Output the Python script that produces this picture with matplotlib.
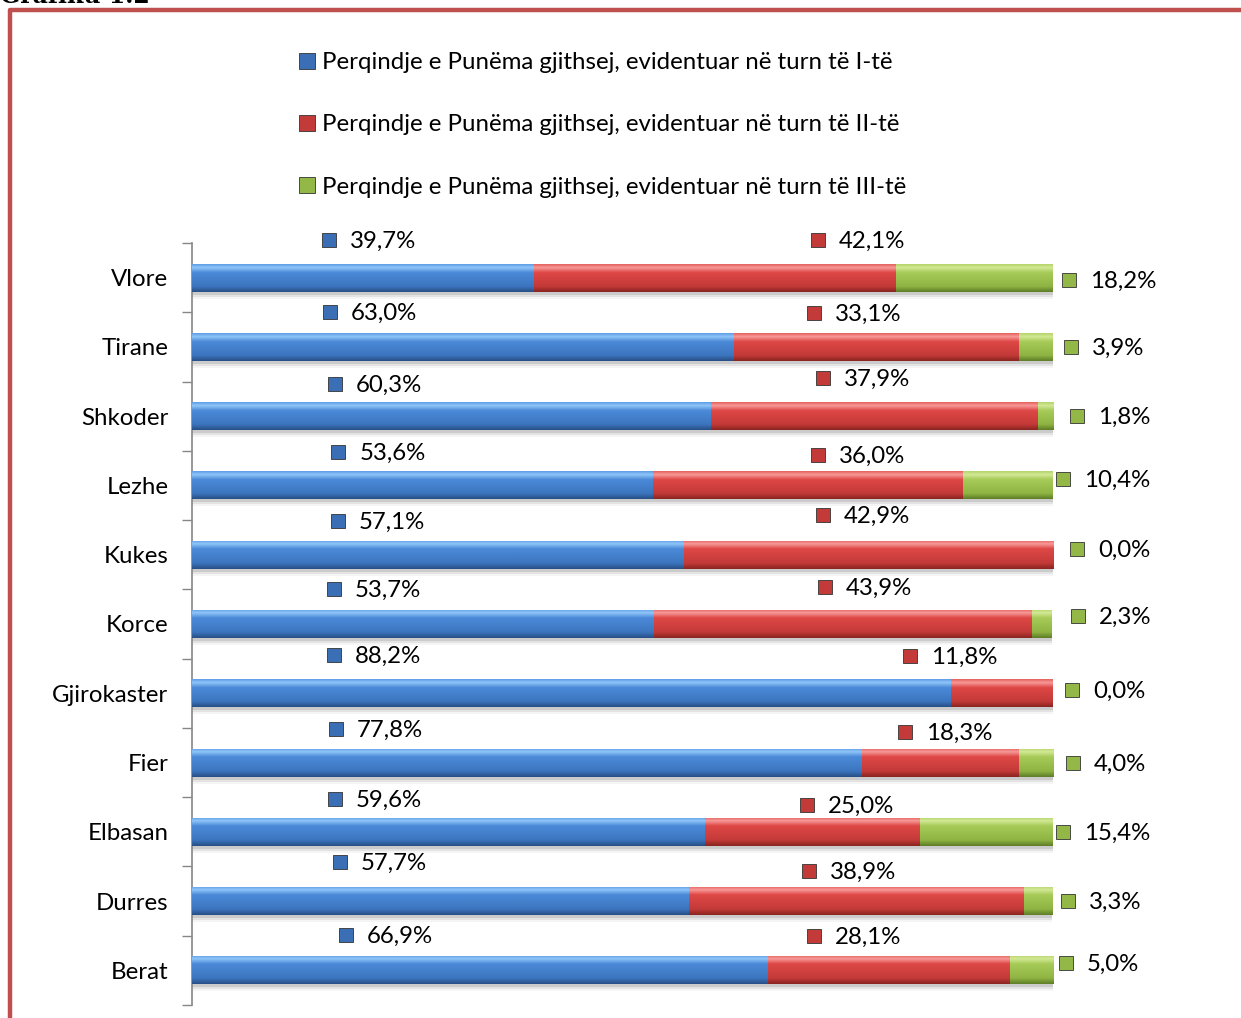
import numpy as np
import matplotlib
matplotlib.use("Agg")
import matplotlib.pyplot as plt
from matplotlib.colors import to_rgb
from matplotlib.lines import Line2D

plt.rcParams['font.family'] = ['Lato', 'DejaVu Sans']

# data (top to bottom, as in the picture)
qarqe = ["Vlore", "Tirane", "Shkoder", "Lezhe", "Kukes", "Korce",
         "Gjirokaster", "Fier", "Elbasan", "Durres", "Berat"]
turn1 = [39.7, 63.0, 60.3, 53.6, 57.1, 53.7, 88.2, 77.8, 59.6, 57.7, 66.9]
turn2 = [42.1, 33.1, 37.9, 36.0, 42.9, 43.9, 11.8, 18.3, 25.0, 38.9, 28.1]
turn3 = [18.2, 3.9, 1.8, 10.4, 0.0, 2.3, 0.0, 4.0, 15.4, 3.3, 5.0]
seriet = ["Perqindje e Punëma gjithsej, evidentuar në turn të I-të",
          "Perqindje e Punëma gjithsej, evidentuar në turn të II-të",
          "Perqindje e Punëma gjithsej, evidentuar në turn të III-të"]

# where the data labels were dragged to (x in %, y offset in px from bar centre)
lbl1_x = [15.9, 16.0, 16.6, 17.0, 16.9, 16.5, 16.5, 16.7, 16.6, 17.2, 17.9]
lbl2_x = [72.7, 72.2, 73.3, 72.7, 73.3, 73.5, 83.4, 82.8, 71.4, 71.7, 72.2]
lbl3_x = [101.9, 102.1, 102.8, 101.2, 102.8, 102.9, 102.2, 102.3, 101.2, 101.7, 101.5]
lbl1_dy = [-38, -35, -32, -33, -34, -35, -38, -34, -33, -39, -35]
lbl2_dy = [-38, -34, -38, -30, -40, -37, -37, -31, -27, -30, -34]
lbl3_dy = [2, 0, 0, -6, -6, -8, -3, 0, 0, 0, -7]

# colour ramps: top edge, highlight, middle, lower, bottom edge
ramps = [
    ["#5f9de6", "#8fc5f8", "#4b8ad8", "#3c75bf", "#284f86"],
    ["#e5615f", "#f79a98", "#de4846", "#c33a38", "#8a2422"],
    ["#b5d46a", "#d3e996", "#a7cb58", "#8fb443", "#5f7d27"],
]
marker_col = ["#3a6fb5", "#c23b39", "#93b847"]
fs = 17.3

W, H = 1241, 1018
fig = plt.figure(figsize=(W / 100, H / 100), dpi=100)
px_per_cat = (1005 - 243) / 11
ax = fig.add_axes([192 / W, (H - 1005) / H, (1053 - 192) / W, (1005 - 243) / H])

n = len(qarqe)
y = np.arange(n)[::-1]
bh = 28 / px_per_cat


def ramp_img(cols):
    stops = [0.0, 0.12, 0.3, 0.8, 1.0]
    t = np.linspace(0, 1, 60)
    rgb = np.array([to_rgb(c) for c in cols])
    img = np.stack([np.interp(t, stops, rgb[:, k]) for k in range(3)], axis=-1)
    return img[:, None, :]


# soft shadow under bars
total = np.array(turn1) + np.array(turn2) + np.array(turn3)
for k, a in enumerate([0.10, 0.07, 0.04]):
    ax.barh(y - (3 + 2 * k) / px_per_cat, total, height=bh, left=0,
            color="black", alpha=a, lw=0, zorder=1)

left = np.zeros(n)
for vals, cols in zip([turn1, turn2, turn3], ramps):
    bars = ax.barh(y, vals, height=bh, left=left, color=cols[2], lw=0, zorder=2)
    img = ramp_img(cols)
    for p in bars.patches:
        if p.get_width() <= 0:
            continue
        x0, y0 = p.get_x(), p.get_y()
        im = ax.imshow(img, extent=[x0, x0 + p.get_width(), y0, y0 + p.get_height()],
                       aspect="auto", zorder=3, interpolation="bilinear")
        im.set_clip_path(p)
    left = left + np.array(vals)

# data labels with legend keys
for vals, lx, ldy, mc in zip([turn1, turn2, turn3], [lbl1_x, lbl2_x, lbl3_x],
                             [lbl1_dy, lbl2_dy, lbl3_dy], marker_col):
    for i in range(n):
        yy = y[i] - ldy[i] / px_per_cat
        ax.plot(lx[i], yy, marker="s", ms=10.5, mfc=mc, mec="#333333",
                mew=0.6, zorder=5, clip_on=False)
        ax.annotate(f"{vals[i]:.1f}%".replace(".", ","), (lx[i], yy),
                    xytext=(15, -1), textcoords="offset points",
                    va="center", ha="left", fontsize=fs, color="black",
                    annotation_clip=False)

ax.set_xlim(0, 100)
ax.set_ylim(-0.5, n - 0.5)
ax.set_yticks(y)
ax.set_yticklabels(qarqe, fontsize=fs)
ax.tick_params(axis="y", length=0, pad=17)
ax.set_yticks(np.arange(-0.5, n, 1), minor=True)
ax.tick_params(axis="y", which="minor", length=7, color="#868686", width=1)
ax.set_xticks([])
for s in ["top", "right", "bottom"]:
    ax.spines[s].set_visible(False)
ax.spines["left"].set_color("#868686")
ax.spines["left"].set_linewidth(1.2)

# legend
handles = [Line2D([], [], ls="none", marker="s", ms=11, mfc=c, mec="#333333", mew=0.6)
           for c in marker_col]
fig.legend(handles, seriet, loc="upper left", bbox_to_anchor=(285 / W, 1 - 40 / H),
           frameon=False, fontsize=fs, labelspacing=1.72, handlelength=0.8,
           handletextpad=0.25, borderpad=0)

# frame and clipped heading
fig.add_artist(Line2D([9.5 / W, 9.5 / W, 1.0], [0.0, 1 - 9.5 / H, 1 - 9.5 / H],
                      transform=fig.transFigure, color="#C0504D", lw=3.2))
fig.text(0.0, 1 - 3 / H, "Grafiku 1.2", fontsize=17, fontweight="bold",
         family="DejaVu Serif", va="baseline")

fig.savefig("out.png", dpi=100)
